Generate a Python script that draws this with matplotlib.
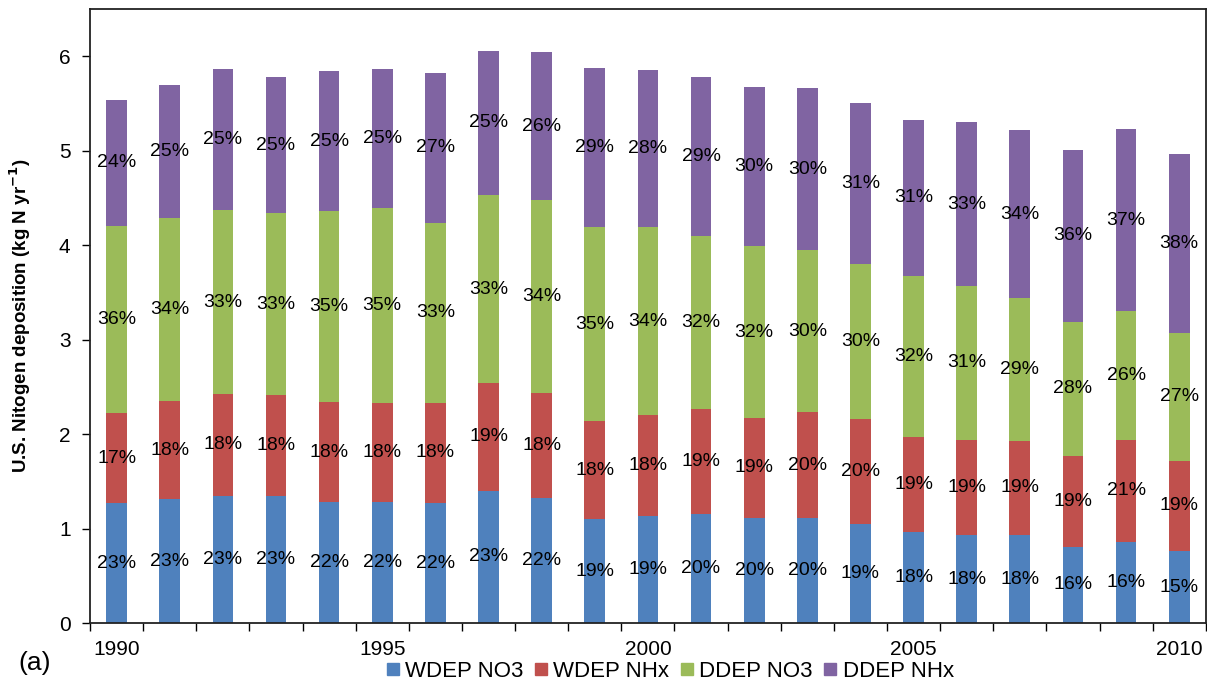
import numpy as np
import matplotlib
matplotlib.use('Agg')
import matplotlib.pyplot as plt
from matplotlib.lines import Line2D

plt.rcParams['font.family'] = ['Liberation Sans', 'DejaVu Sans']

years = list(range(1990, 2011))

# deposition by component, kg N per year
wdep_no3 = [1.27, 1.31, 1.35, 1.35, 1.28, 1.28, 1.27, 1.40, 1.32, 1.10, 1.135,
            1.15, 1.115, 1.11, 1.05, 0.96, 0.93, 0.93, 0.81, 0.86, 0.76]
wdep_nhx = [0.95, 1.04, 1.07, 1.06, 1.06, 1.05, 1.06, 1.14, 1.11, 1.04, 1.065,
            1.12, 1.055, 1.12, 1.11, 1.01, 1.01, 1.00, 0.96, 1.08, 0.96]
ddep_no3 = [1.98, 1.94, 1.95, 1.93, 2.02, 2.06, 1.91, 1.99, 2.05, 2.05, 1.99,
            1.83, 1.82, 1.72, 1.64, 1.70, 1.63, 1.51, 1.42, 1.36, 1.35]
ddep_nhx = [1.34, 1.41, 1.49, 1.44, 1.48, 1.47, 1.58, 1.53, 1.56, 1.69, 1.66,
            1.68, 1.68, 1.71, 1.70, 1.66, 1.73, 1.78, 1.82, 1.93, 1.90]

series = [
    ('WDEP NO3', wdep_no3, '#4F81BD'),
    ('WDEP NHx', wdep_nhx, '#C0504D'),
    ('DDEP NO3', ddep_no3, '#9BBB59'),
    ('DDEP NHx', ddep_nhx, '#8064A2'),
]


def draw_bars(ax):
    x = np.arange(len(years))
    totals = np.sum([s[1] for s in series], axis=0)
    bottom = np.zeros(len(years))
    for name, vals, color in series:
        vals = np.array(vals)
        ax.bar(x, vals, width=0.39, bottom=bottom, color=color,
               edgecolor='none', label=name, zorder=2)
        # share of the yearly total, written in the middle of each segment
        for xi, b, v, t in zip(x, bottom, vals, totals):
            ax.text(xi, b + v / 2, f'{v / t * 100:.0f}%', ha='center',
                    va='center', fontsize=14, color='black', zorder=3)
        bottom += vals


def setup_axes(ax):
    n = len(years)
    ax.set_xlim(-0.5, n - 0.5)
    ax.set_ylim(0, 6.5)
    ax.set_yticks(range(0, 7))
    ax.tick_params(axis='y', direction='out', length=6, width=1,
                   labelsize=15, pad=8)
    labeled = [i for i, y in enumerate(years) if y % 5 == 0]
    ax.set_xticks(labeled)
    ax.set_xticklabels([str(years[i]) for i in labeled])
    ax.set_xticks(np.arange(-0.5, n, 1.0), minor=True)
    ax.tick_params(axis='x', which='major', length=0, labelsize=15, pad=12)
    ax.tick_params(axis='x', which='minor', direction='out', length=6,
                   width=1)
    for side in ['left', 'bottom', 'right', 'top']:
        ax.spines[side].set_color('#222222')
        ax.spines[side].set_linewidth(1.3)
    ax.set_ylabel('U.S. Nitogen deposition (kg N yr$^{\\mathbf{-1}}$)',
                  fontsize=13.5, fontweight='bold')
    ax.yaxis.set_label_coords(-0.051, 0.5)


def draw_legend(fig):
    handles = [Line2D([0], [0], marker='s', linestyle='none', color=c,
                      markersize=8.5, label=n) for n, _, c in series]
    fig.legend(handles=handles, loc='center', ncol=4,
               bbox_to_anchor=(0.555, 0.017), frameon=False, fontsize=16,
               handlelength=0.6, handletextpad=0.25, columnspacing=0.5,
               borderpad=0.1)


fig = plt.figure(figsize=(12.07, 6.83), dpi=100)
ax = fig.add_axes([0.0746, 0.0878, 0.9244, 0.899])
draw_bars(ax)
setup_axes(ax)
draw_legend(fig)
fig.text(0.015, 0.029, '(a)', fontsize=19, va='center')

fig.savefig('out.png', dpi=100)
